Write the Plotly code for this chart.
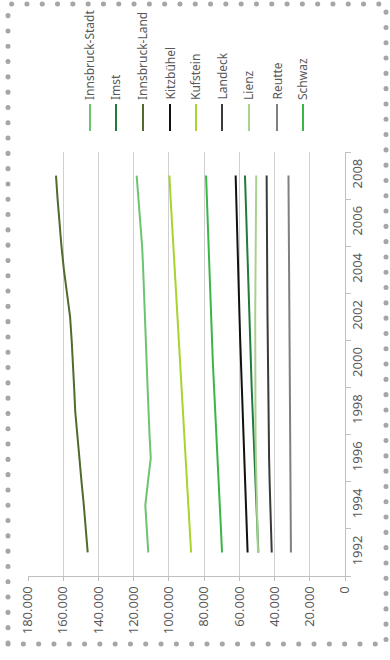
import plotly.graph_objects as go

years = list(range(1992, 2009))

innsbruck_stadt = [111700, 112500, 113400, 111900, 110300, 111000, 111700, 112100, 112600,
                   113000, 113400, 114000, 114600, 115200, 116300, 117300, 118300]
imst = [49200, 49800, 50400, 51000, 51600, 52100, 52600, 53000, 53400,
        53800, 54200, 54700, 55100, 55500, 55900, 56300, 56800]
innsbruck_land = [146100, 147000, 148300, 149600, 150900, 152100, 153200, 153800, 154300,
                  155200, 156100, 158000, 159600, 161000, 162200, 163200, 164100]
kitzbuehel = [55300, 55800, 56300, 56900, 57300, 57800, 58300, 58800, 59200,
              59500, 59900, 60300, 60600, 61000, 61400, 61800, 62100]
kufstein = [87400, 88200, 89000, 89800, 90500, 91300, 92200, 93000, 93600,
            94400, 95200, 96000, 96800, 97500, 98300, 99000, 99700]
landeck = [41600, 42100, 42500, 42800, 43100, 43300, 43500, 43700, 43800,
           43900, 44000, 44100, 44200, 44300, 44400, 44500, 44500]
lienz = [49400, 49800, 50100, 50400, 50600, 50800, 50900, 51000, 51000,
         51000, 51000, 50900, 50800, 50700, 50600, 50500, 50400]
reutte = [30700, 30800, 30900, 31000, 31100, 31100, 31200, 31200, 31300,
          31400, 31500, 31600, 31700, 31800, 31900, 32000, 32100]
schwaz = [69800, 70500, 71200, 71900, 72500, 73200, 73800, 74400, 75000,
          75500, 76000, 76500, 77000, 77500, 78000, 78500, 78900]

names = ["Innsbruck-Stadt", "Imst", "Innsbruck-Land", "Kitzbühel", "Kufstein",
         "Landeck", "Lienz", "Reutte", "Schwaz"]
series = [innsbruck_stadt, imst, innsbruck_land, kitzbuehel, kufstein,
          landeck, lienz, reutte, schwaz]
colors = ["#6cc470", "#217a3e", "#4f6b2e", "#111111", "#a8d42e",
          "#3a3a3a", "#a9d18e", "#808080", "#3cb44a"]

value_ticks = list(range(0, 180001, 20000))
year_ticks = list(range(1992, 2009, 2))

W, H = 390, 660
ml, mr, mt, mb = 28, 45, 152, 84
pw, ph = W - ml - mr, H - mt - mb

def px_x(p):
    return (p - ml) / pw

def px_y(p):
    return (H - mb - p) / ph

fig = go.Figure()
for name, vals, col in zip(names, series, colors):
    fig.add_trace(go.Scatter(x=vals, y=years, mode="lines", name=name,
                             line=dict(color=col, width=2)))

font_col = "#595959"
fnt = "Noto Sans, Open Sans, sans-serif"

shapes = []
annotations = []
legend_x = [90, 116, 143, 170, 196, 222, 249, 277, 303]
for lx, name, col in zip(legend_x, names, colors):
    shapes.append(dict(type="line", xref="paper", yref="paper",
                       x0=px_x(lx), x1=px_x(lx), y0=px_y(131), y1=px_y(104),
                       line=dict(color=col, width=2)))
    annotations.append(dict(text=name, xref="paper", yref="paper",
                            x=px_x(lx), y=px_y(102), xanchor="center", yanchor="bottom",
                            textangle=-90, showarrow=False,
                            font=dict(size=12, color=font_col, family=fnt)))

# dotted chart-area border
shapes.append(dict(type="rect", xref="paper", yref="paper",
                   x0=px_x(8), x1=px_x(386), y0=px_y(644), y1=px_y(4),
                   line=dict(color="#a6a6a6", width=5, dash="0.1px,15.2px")))

fig.update_layout(
    width=W, height=H,
    margin=dict(l=ml, r=mr, t=mt, b=mb),
    paper_bgcolor="white", plot_bgcolor="white",
    separators=",.",
    showlegend=False,
    hovermode=False,
    font=dict(family=fnt, size=13, color=font_col),
    shapes=shapes, annotations=annotations,
    xaxis=dict(range=[180000, 0], tickvals=value_ticks, tickformat=",d",
               tickangle=-90, ticks="outside", ticklen=4, tickcolor="#bfbfbf",
               showgrid=True, gridcolor="#d0d0d0", gridwidth=1,
               showline=True, linecolor="#bfbfbf", linewidth=1,
               zeroline=False, tickfont=dict(size=13, color=font_col)),
    yaxis=dict(range=[1991, 2009], side="right", tickvals=year_ticks,
               tickangle=-90, ticks="", showgrid=False,
               showline=True, linecolor="#bfbfbf", linewidth=1, zeroline=False,
               minor=dict(tick0=1991, dtick=2, ticks="outside", ticklen=5,
                          tickcolor="#bfbfbf", showgrid=False),
               tickfont=dict(size=13, color=font_col)),
)

post = (
    "document.body.style.margin='0';document.body.style.overflow='hidden';"
    "document.querySelectorAll('.shapelayer path').forEach(function(p){"
    "if((p.style.strokeDasharray||'').indexOf('15.2')>=0){p.style.strokeLinecap='round';}});"
)
fig.write_html("out.html", config={"displayModeBar": False, "staticPlot": True},
               post_script=post)
